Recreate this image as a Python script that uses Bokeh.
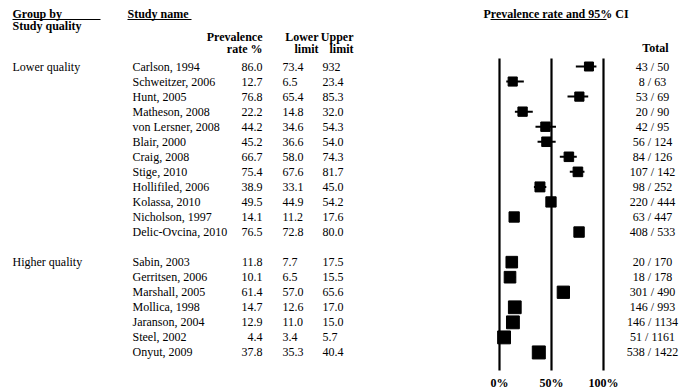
import math

from bokeh.core.properties import value
from bokeh.embed import file_html
from bokeh.models import ColumnDataSource, Range1d
from bokeh.plotting import figure
from bokeh.resources import INLINE

# ---- data -------------------------------------------------------------
studies = [
    "Carlson, 1994", "Schweitzer, 2006", "Hunt, 2005", "Matheson, 2008",
    "von Lersner, 2008", "Blair, 2000", "Craig, 2008", "Stige, 2010",
    "Hollifiled, 2006", "Kolassa, 2010", "Nicholson, 1997", "Delic-Ovcina, 2010",
    "Sabin, 2003", "Gerritsen, 2006", "Marshall, 2005", "Mollica, 1998",
    "Jaranson, 2004", "Steel, 2002", "Onyut, 2009",
]
quality = ["Lower quality"] * 12 + ["Higher quality"] * 7
rate = [86.0, 12.7, 76.8, 22.2, 44.2, 45.2, 66.7, 75.4, 38.9, 49.5, 14.1, 76.5,
        11.8, 10.1, 61.4, 14.7, 12.9, 4.4, 37.8]
lower = [73.4, 6.5, 65.4, 14.8, 34.6, 36.6, 58.0, 67.6, 33.1, 44.9, 11.2, 72.8,
         7.7, 6.5, 57.0, 12.6, 11.0, 3.4, 35.3]
upper = [93.2, 23.4, 85.3, 32.0, 54.3, 54.0, 74.3, 81.7, 45.0, 54.2, 17.6, 80.0,
         17.5, 15.5, 65.6, 17.0, 15.0, 5.7, 40.4]
upper_label = ["932", "23.4", "85.3", "32.0", "54.3", "54.0", "74.3", "81.7",
               "45.0", "54.2", "17.6", "80.0", "17.5", "15.5", "65.6", "17.0",
               "15.0", "5.7", "40.4"]
events = [43, 8, 53, 20, 42, 56, 84, 107, 98, 220, 63, 408,
          20, 18, 301, 146, 146, 51, 538]
totals = [50, 63, 69, 90, 95, 124, 126, 142, 252, 444, 447, 533,
          170, 178, 490, 993, 1134, 1161, 1422]
groups = ["Lower quality", "Higher quality"]
ref_ticks = [0, 50, 100]
ref_tick_labels = ["0%", "50%", "100%"]

# ---- layout helpers ----------------------------------------------------
W, H = 683, 390
FONT = value("Liberation Serif")
SIZE = value("12px")

# one row per study, with an empty row between the two groups
rows = []
r = 0
prev = None
for q in quality:
    if prev is not None and q != prev:
        r += 1
    rows.append(r)
    r += 1
    prev = q
group_rows = [rows[quality.index(g)] for g in groups]

# marker size from study size, scaled within each group
sizes = []
for q, n in zip(quality, totals):
    ns = [t for qq, t in zip(quality, totals) if qq == q]
    lo, hi = math.log(min(ns)), math.log(max(ns))
    f = (math.log(n) - lo) / (hi - lo) if hi > lo else 0.5
    base = 9.0 if q == groups[0] else 11.6
    sizes.append(base + 1.4 * f)

ROW0, STEP = 66.0, 15.05
X0, XSCALE = 499.0, 1.04  # pixel of 0 % and pixels per percent

p = figure(
    width=W, height=H, output_backend="svg", toolbar_location=None,
    x_range=Range1d(0, W),
    y_range=Range1d((H - ROW0) / STEP, -ROW0 / STEP),
    x_axis_location=None, y_axis_location=None,
    min_border=0, min_border_left=0, min_border_right=0,
    min_border_top=0, min_border_bottom=0,
)
p.extra_x_ranges = {"pct": Range1d(-X0 / XSCALE, (W - X0) / XSCALE)}
p.extra_y_ranges = {"px": Range1d(H, 0)}
p.grid.visible = False
p.outline_line_color = None
p.background_fill_color = "white"
p.border_fill_color = "white"


def txt(x, y, s, align="left", bold=False, y_name="default", x_name="default",
        baseline="middle"):
    p.text(x=[x], y=[y], text=[s], text_font=FONT, text_font_size=SIZE,
           text_font_style="bold" if bold else "normal", text_color="black",
           text_align=align, text_baseline=baseline,
           y_range_name=y_name, x_range_name=x_name)


# ---- headers -----------------------------------------------------------
txt(12, 13, "Group by", bold=True, y_name="px")
txt(12, 25, "Study quality", bold=True, y_name="px")
txt(127, 13, "Study name", bold=True, y_name="px")
txt(262, 36, "Prevalence", align="right", bold=True, y_name="px")
txt(262, 48, "rate %", align="right", bold=True, y_name="px")
txt(318, 36, "Lower", align="right", bold=True, y_name="px")
txt(318, 48, "limit", align="right", bold=True, y_name="px")
txt(353, 36, "Upper", align="right", bold=True, y_name="px")
txt(353, 48, "limit", align="right", bold=True, y_name="px")
txt(483, 13, "Prevalence rate and 95% CI", bold=True, y_name="px")
txt(668, 47, "Total", align="right", bold=True, y_name="px")

# header underlines
p.segment(x0=[12, 127, 490], x1=[100, 191, 606], y0=[19, 19, 19], y1=[19, 19, 19],
          line_color="black", line_width=1.2, y_range_name="px")

# ---- table columns -----------------------------------------------------
src = ColumnDataSource(dict(
    row=rows, study=studies, rate=rate, lower=lower, upper=upper,
    rate_s=[f"{v:.1f}" for v in rate], lower_s=[f"{v:.1f}" for v in lower],
    upper_s=upper_label,
    total_s=[f"{e} / {t}" for e, t in zip(events, totals)],
    size=sizes,
))

common = dict(source=src, y="row", text_font=FONT, text_font_size=SIZE,
              text_color="black", text_baseline="middle")
p.text(x=132, text="study", text_align="left", **common)
p.text(x=262, text="rate_s", text_align="right", **common)
p.text(x=282, text="lower_s", text_align="left", **common)
p.text(x=322, text="upper_s", text_align="left", **common)
p.text(x=652, text="total_s", text_align="center", **common)

p.text(x=[12] * len(groups), y=group_rows, text=groups, text_font=FONT,
       text_font_size=SIZE, text_color="black", text_baseline="middle")

# ---- forest plot -------------------------------------------------------
p.segment(x0=ref_ticks, x1=ref_ticks, y0=[58] * 3, y1=[370] * 3,
          line_color="black", line_width=2.2,
          x_range_name="pct", y_range_name="px")

p.segment(x0="lower", x1="upper", y0="row", y1="row", source=src,
          line_color="black", line_width=2, x_range_name="pct")
p.scatter(x="rate", y="row", size="size", marker="square", source=src,
          fill_color="black", line_color="black", x_range_name="pct")

p.text(x=ref_ticks, y=[382] * 3, text=ref_tick_labels, text_font=FONT,
       text_font_size=SIZE, text_font_style="bold", text_color="black",
       text_align="center", text_baseline="middle",
       x_range_name="pct", y_range_name="px")

open("out.html", "w").write(file_html(p, INLINE))
